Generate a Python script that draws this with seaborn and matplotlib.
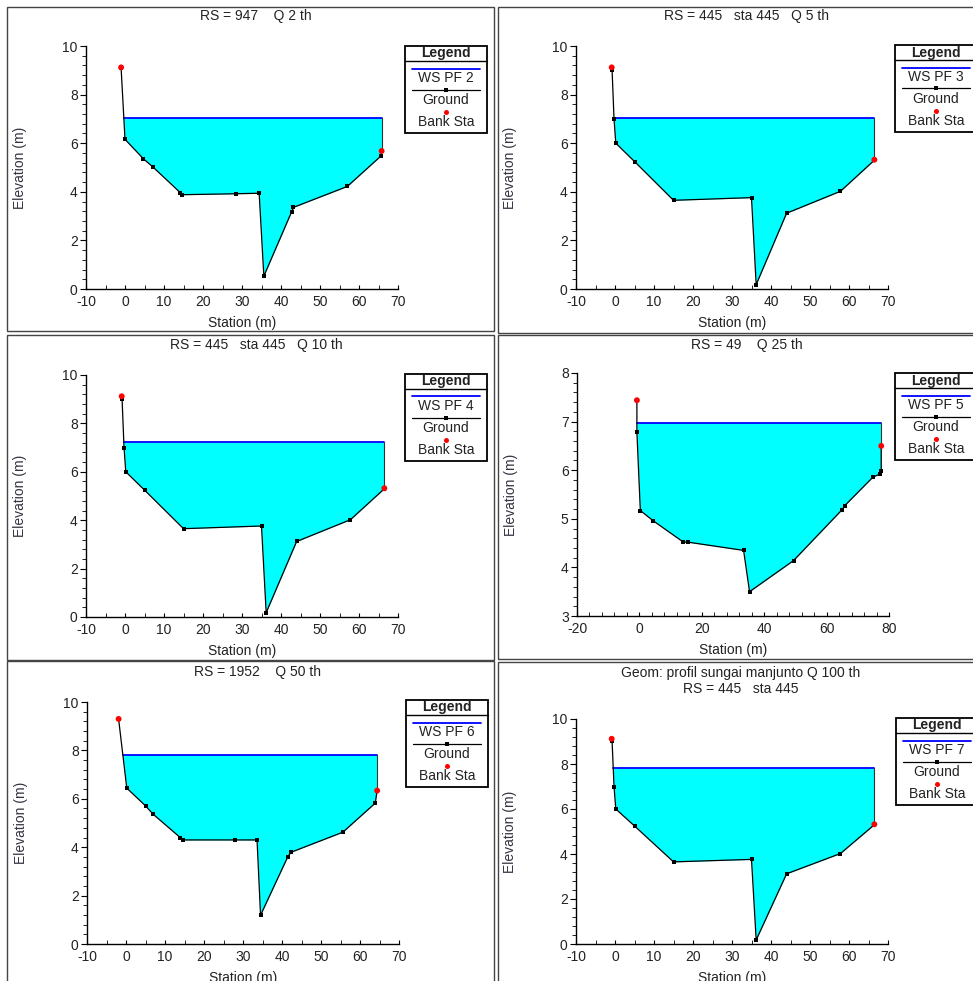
import numpy as np
import seaborn as sns
import matplotlib.pyplot as plt
from matplotlib.patches import Rectangle
from matplotlib.lines import Line2D
from matplotlib.ticker import MultipleLocator

sns.set_style('white')
plt.rcParams['font.family'] = ['Liberation Sans', 'DejaVu Sans']
plt.rcParams['axes.unicode_minus'] = False

# ground profiles
sta_947 = [-1.0, 0.0, 4.7, 7.1, 14.2, 14.6, 28.4, 34.4, 35.6, 42.7, 43.2, 57.0, 65.6, 65.8]
elev_947 = [9.1, 6.16, 5.36, 5.03, 3.96, 3.88, 3.92, 3.94, 0.53, 3.17, 3.36, 4.22, 5.47, 5.68]
bank_sta_947 = [-1.0, 65.8]
bank_elev_947 = [9.12, 5.68]

sta_445 = [-0.75, -0.25, 0.2, 5.1, 15.0, 35.0, 36.2, 44.0, 57.8, 66.5]
elev_445 = [9.02, 7.0, 6.0, 5.23, 3.65, 3.76, 0.18, 3.12, 4.02, 5.3]
bank_sta_445 = [-0.85, 66.5]
bank_elev_445 = [9.12, 5.32]

sta_49 = [-0.8, -0.8, 0.3, 4.4, 14.1, 15.5, 33.4, 35.3, 49.4, 65.0, 65.8, 74.9, 77.1, 77.5, 77.5]
elev_49 = [7.44, 6.78, 5.17, 4.96, 4.52, 4.52, 4.35, 3.50, 4.14, 5.19, 5.27, 5.86, 5.92, 5.98, 6.5]
bank_sta_49 = [-0.8, 77.5]
bank_elev_49 = [7.44, 6.5]

sta_1952 = [-1.9, 0.2, 5.0, 6.9, 13.9, 14.6, 27.9, 33.6, 34.5, 41.5, 42.3, 55.6, 63.9, 64.4]
elev_1952 = [9.3, 6.44, 5.71, 5.37, 4.40, 4.30, 4.30, 4.30, 1.19, 3.61, 3.79, 4.62, 5.82, 6.34]
bank_sta_1952 = [-1.9, 64.4]
bank_elev_1952 = [9.3, 6.34]

ws_levels = [7.05, 7.05, 7.23, 6.98, 7.82, 7.82]
titles = ['RS = 947    Q 2 th', 'RS = 445   sta 445   Q 5 th', 'RS = 445   sta 445   Q 10 th',
          'RS = 49    Q 25 th', 'RS = 1952    Q 50 th',
          'Geom: profil sungai manjunto Q 100 th\nRS = 445   sta 445']
profile_names = ['WS PF 2', 'WS PF 3', 'WS PF 4', 'WS PF 5', 'WS PF 6', 'WS PF 7']

grounds = [
    (sta_947, elev_947, bank_sta_947, bank_elev_947),
    (sta_445, elev_445, bank_sta_445, bank_elev_445),
    (sta_445, elev_445, bank_sta_445, bank_elev_445),
    (sta_49, elev_49, bank_sta_49, bank_elev_49),
    (sta_1952, elev_1952, bank_sta_1952, bank_elev_1952),
    (sta_445, elev_445, bank_sta_445, bank_elev_445),
]

W, H = 973, 981
def fx(px):
    return px / W
def fy(py):
    return 1 - py / H

# layout in pixels: axes (x0, x1, ytop, ybot), frame (x0, y0, x1, y1), title (x, y), legend (x, y)
axes_px = [(86, 398, 46, 289), (576, 888, 46, 289), (86, 398, 375, 617),
           (577, 889, 373, 616), (87, 399, 702, 944), (576, 888, 719, 944)]
frames_px = [(7, 7, 494, 331), (498, 7, 980, 333), (7, 335, 494, 660),
             (498, 335, 980, 659), (7, 661, 494, 990), (498, 662, 980, 990)]
titles_px = [(256, 16), (746, 16), (256, 345), (747, 345), (258, 672), (741, 681)]
legend_px = [(405, 46), (895, 45), (405, 374), (895, 373), (406, 700), (896, 718)]
limits = [((-10, 70), (0, 10))] * 3 + [((-20, 80), (3, 8))] + [((-10, 70), (0, 10))] * 2

TXT = '#222222'
fig = plt.figure(figsize=(W / 100, H / 100), dpi=100)

def left_crossing(x, y, ws):
    for i in range(len(x) - 1):
        if y[i] >= ws > y[i + 1]:
            t = (y[i] - ws) / (y[i] - y[i + 1])
            return x[i] + t * (x[i + 1] - x[i])
    return x[0]

for i in range(6):
    sta, elev, bsta, belev = grounds[i]
    ws = ws_levels[i]
    x0, x1, yt, yb = axes_px[i]
    ax = fig.add_axes([fx(x0), fy(yb), (x1 - x0) / W, (yb - yt) / H])
    x = np.array(sta)
    y = np.array(elev)

    ax.fill_between(x, y, ws, where=y <= ws, interpolate=True, color='#00ffff', lw=0, zorder=1)
    xl = left_crossing(x, y, ws)
    ax.plot([xl, x[-1]], [ws, ws], color='#0000ff', lw=1.3, zorder=2)
    ax.plot([x[-1], x[-1]], [y[-1], ws], color='#333333', lw=0.8, zorder=2)
    sns.lineplot(x=sta, y=elev, ax=ax, sort=False, estimator=None, color='black', lw=0.9,
                 marker='s', markersize=3.2, markeredgewidth=0, zorder=3)
    sns.scatterplot(x=bsta, y=belev, ax=ax, color='red', s=18, edgecolor='none', zorder=4)

    (xa, xb), (ya, yb2) = limits[i]
    ax.set_xlim(xa, xb)
    ax.set_ylim(ya, yb2)
    if i == 3:
        ax.xaxis.set_major_locator(MultipleLocator(20))
        ax.xaxis.set_minor_locator(MultipleLocator(4))
        ax.yaxis.set_major_locator(MultipleLocator(1))
        ax.yaxis.set_minor_locator(MultipleLocator(0.2))
    else:
        ax.xaxis.set_major_locator(MultipleLocator(10))
        ax.xaxis.set_minor_locator(MultipleLocator(5))
        ax.yaxis.set_major_locator(MultipleLocator(2))
        ax.yaxis.set_minor_locator(MultipleLocator(0.4))
    ax.set_facecolor('none')
    for s in ['top', 'right']:
        ax.spines[s].set_visible(False)
    for s in ['left', 'bottom']:
        ax.spines[s].set_color('black')
        ax.spines[s].set_linewidth(1.0)
    ax.tick_params(axis='x', which='both', direction='in', colors='black', labelcolor=TXT,
                   labelsize=10, pad=4, bottom=True)
    ax.tick_params(axis='x', which='major', length=3)
    ax.tick_params(axis='x', which='minor', length=3)
    ax.tick_params(axis='y', which='both', direction='out', colors='black', labelcolor=TXT,
                   labelsize=10, pad=2, left=True)
    ax.tick_params(axis='y', which='major', length=4)
    ax.tick_params(axis='y', which='minor', length=3)
    ax.set_xlabel('')
    ax.set_ylabel('')

    # labels
    fig.text(fx((x0 + x1) / 2), fy(yb + 34), 'Station (m)', ha='center', va='center',
             fontsize=10, color=TXT)
    fig.text(fx(x0 - 66), fy((yt + yb) / 2), 'Elevation (m)', ha='center', va='center',
             rotation=90, fontsize=10, color='#333344')
    tx, ty = titles_px[i]
    fig.text(fx(tx), fy(ty), titles[i], ha='center', va='center', fontsize=10, color=TXT,
             linespacing=1.15)

    # panel frame
    fa, fb, fc, fd = frames_px[i]
    fig.add_artist(Rectangle((fx(fa), fy(fd)), (fc - fa) / W, (fd - fb) / H, fill=False,
                             edgecolor='#444444', lw=1.0, transform=fig.transFigure))

    # legend box
    lx, ly = legend_px[i]
    fig.add_artist(Rectangle((fx(lx), fy(ly + 87)), 82 / W, 87 / H, facecolor='white',
                             edgecolor='black', lw=1.3, transform=fig.transFigure, zorder=5))
    cx = lx + 41
    fig.text(fx(cx), fy(ly + 7.5), 'Legend', ha='center', va='center', fontsize=10,
             fontweight='bold', color=TXT, zorder=6)
    fig.add_artist(Line2D([fx(lx), fx(lx + 82)], [fy(ly + 15)] * 2, color='black', lw=1.0,
                          transform=fig.transFigure, zorder=6))
    fig.add_artist(Line2D([fx(lx + 7), fx(lx + 75)], [fy(ly + 22.5)] * 2, color='#0000ff', lw=1.3,
                          transform=fig.transFigure, zorder=6))
    fig.text(fx(cx), fy(ly + 32), profile_names[i], ha='center', va='center', fontsize=10,
             color=TXT, zorder=6)
    fig.add_artist(Line2D([fx(lx + 7), fx(lx + 75)], [fy(ly + 43.5)] * 2, color='black', lw=0.9,
                          transform=fig.transFigure, zorder=6))
    fig.add_artist(Line2D([fx(cx)], [fy(ly + 43.5)], color='black', marker='s', markersize=3.2,
                          markeredgewidth=0, transform=fig.transFigure, zorder=7))
    fig.text(fx(cx), fy(ly + 54), 'Ground', ha='center', va='center', fontsize=10,
             color=TXT, zorder=6)
    fig.add_artist(Line2D([fx(cx)], [fy(ly + 65.5)], color='red', marker='o', markersize=3.6,
                          markeredgewidth=0, transform=fig.transFigure, zorder=7))
    fig.text(fx(cx), fy(ly + 76), 'Bank Sta', ha='center', va='center', fontsize=10,
             color=TXT, zorder=6)

plt.savefig('out.png', dpi=100)
